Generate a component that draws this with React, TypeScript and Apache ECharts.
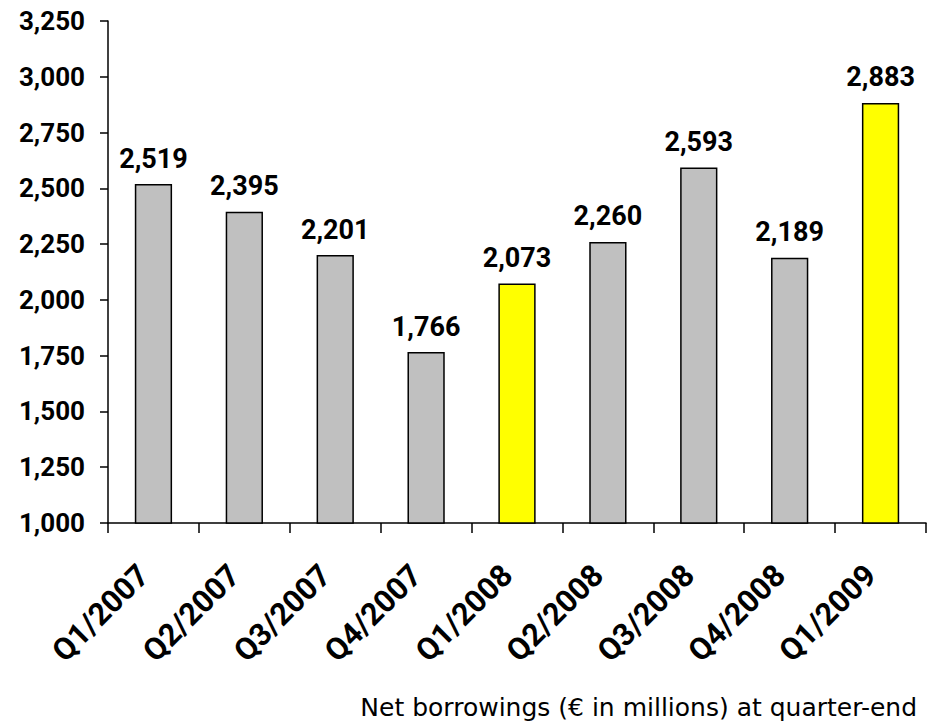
import React, { useEffect, useRef } from "react";
import * as echarts from "echarts";

const categories = ["Q1/2007", "Q2/2007", "Q3/2007", "Q4/2007", "Q1/2008", "Q2/2008", "Q3/2008", "Q4/2008", "Q1/2009"];
const values = [2519, 2395, 2201, 1766, 2073, 2260, 2593, 2189, 2883];
const highlighted = [false, false, false, false, true, false, false, false, true];
const caption = "Net borrowings (€ in millions) at quarter-end";

const FONT = "Roboto, sans-serif";

export default function App() {
  const ref = useRef<HTMLDivElement>(null);
  useEffect(() => {
    if (!ref.current) return;
    const chart = echarts.init(ref.current, undefined, { renderer: "svg" });
    chart.setOption({
      animation: false,
      backgroundColor: "#ffffff",
      grid: { left: 108, top: 21, right: 6, bottom: 201, containLabel: false },
      xAxis: {
        type: "category",
        data: categories,
        axisLine: { lineStyle: { color: "#000", width: 1.5 } },
        axisTick: { show: true, length: 10, lineStyle: { color: "#000", width: 1.5 } },
        axisLabel: {
          rotate: 45,
          interval: 0,
          margin: 37,
          padding: [0, 14, 0, 0],
          color: "#000",
          fontFamily: FONT,
          fontWeight: "bold",
          fontSize: 31,
        },
      },
      yAxis: {
        type: "value",
        min: 1000,
        max: 3250,
        interval: 250,
        axisLine: { show: true, lineStyle: { color: "#000", width: 1.5 } },
        axisTick: { show: true, length: 8, lineStyle: { color: "#000", width: 1.5 } },
        splitLine: { show: false },
        axisLabel: {
          margin: 23,
          color: "#000",
          fontFamily: FONT,
          fontWeight: "bold",
          fontSize: 26,
          formatter: (v: number) => v.toLocaleString("en-US"),
        },
      },
      series: [
        {
          type: "bar",
          barWidth: "41%",
          data: values.map((v, i) => ({
            value: v,
            itemStyle: {
              color: highlighted[i] ? "#ffff00" : "#c0c0c0",
              borderColor: "#000",
              borderWidth: 1.5,
            },
          })),
          label: {
            show: true,
            position: "top",
            distance: 12,
            color: "#000",
            fontFamily: FONT,
            fontWeight: "bold",
            fontSize: 27,
            formatter: (p: any) => Number(p.value).toLocaleString("en-US"),
          },
        },
      ],
      graphic: [
        {
          type: "text",
          right: 15,
          top: 695,
          style: {
            text: caption,
            fill: "#000",
            font: "25px 'DejaVu Sans', sans-serif",
          },
        },
      ],
    });
    return () => chart.dispose();
  }, []);
  return <div ref={ref} style={{ width: 932, height: 724, position: "absolute", left: 0, top: 0 }} />;
}
